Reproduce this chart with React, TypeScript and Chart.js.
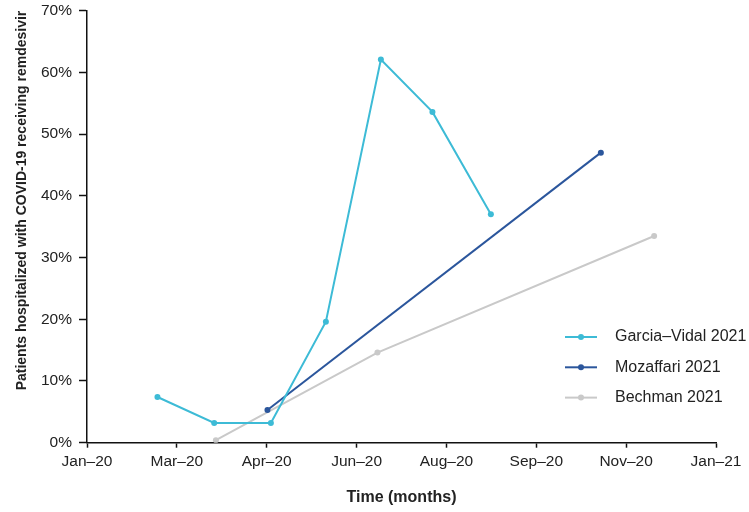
import React, { useEffect, useRef } from "react";
import { Chart, registerables } from "chart.js";

Chart.register(...registerables);

// x values are days since 1 Jan 2020, y values are percentages
const xTickLabels = ["Jan–20", "Mar–20", "Apr–20", "Jun–20", "Aug–20", "Sep–20", "Nov–20", "Jan–21"];
const xMaxDays = 366;

const seriesNames = ["Garcia–Vidal 2021", "Mozaffari 2021", "Bechman 2021"];
const seriesColors = ["#3dbbd6", "#2b569c", "#c9c9c9"];

const garciaDays = [41, 74, 107, 139, 171, 201, 235];
const garciaPct = [7.4, 3.2, 3.2, 19.6, 62.1, 53.6, 37.0];

const mozaffariDays = [105, 299];
const mozaffariPct = [5.3, 47.0];

const bechmanDays = [75, 169, 330];
const bechmanPct = [0.4, 14.6, 33.5];

const FONT = "'Liberation Sans', Arial, Helvetica, sans-serif";

const toPoints = (xs: number[], ys: number[]) => xs.map((x, i) => ({ x, y: ys[i] }));

// legend drawn inside the plot, lower right
const insideLegend = {
    id: "insideLegend",
    afterDraw(chart: any) {
        const ctx = chart.ctx as CanvasRenderingContext2D;
        const lineX0 = 565;
        const lineX1 = 597;
        const textX = 615;
        const top = 337;
        const gap = 30.3;
        ctx.save();
        chart.data.datasets.forEach((ds: any, i: number) => {
            const y = top + i * gap;
            ctx.strokeStyle = ds.borderColor;
            ctx.lineWidth = 2;
            ctx.beginPath();
            ctx.moveTo(lineX0, y);
            ctx.lineTo(lineX1, y);
            ctx.stroke();
            ctx.fillStyle = ds.borderColor;
            ctx.beginPath();
            ctx.arc((lineX0 + lineX1) / 2, y, 3, 0, Math.PI * 2);
            ctx.fill();
            ctx.fillStyle = "#222";
            ctx.font = `16px ${FONT}`;
            ctx.textAlign = "left";
            ctx.textBaseline = "middle";
            ctx.fillText(ds.label, textX, y);
        });
        ctx.restore();
    },
};

const RemdesivirChart = () => {
    const canvasRef = useRef<HTMLCanvasElement | null>(null);

    useEffect(() => {
        const ctx = canvasRef.current?.getContext("2d");
        if (!ctx) return;

        const makeSet = (i: number, xs: number[], ys: number[]) => ({
            label: seriesNames[i],
            data: toPoints(xs, ys),
            borderColor: seriesColors[i],
            backgroundColor: seriesColors[i],
            borderWidth: 2,
            pointRadius: 3,
            pointBorderWidth: 0,
            tension: 0,
        });

        const chart = new Chart(ctx, {
            type: "line",
            data: {
                datasets: [
                    makeSet(0, garciaDays, garciaPct),
                    makeSet(1, mozaffariDays, mozaffariPct),
                    makeSet(2, bechmanDays, bechmanPct),
                ],
            },
            options: {
                animation: false,
                responsive: true,
                maintainAspectRatio: false,
                layout: { padding: { top: 10.7, right: 33, bottom: 0, left: 0 } },
                plugins: {
                    legend: { display: false },
                    tooltip: { enabled: false },
                },
                scales: {
                    x: {
                        type: "linear",
                        min: 0,
                        max: xMaxDays,
                        afterBuildTicks: (scale: any) => {
                            scale.ticks = xTickLabels.map((_, i) => ({ value: (xMaxDays * i) / (xTickLabels.length - 1) }));
                        },
                        afterFit: (scale: any) => {
                            scale.height = 69.3;
                        },
                        ticks: {
                            autoSkip: false,
                            maxRotation: 0,
                            padding: 5,
                            color: "#222",
                            font: { family: FONT, size: 15.5 },
                            callback: (_v: any, index: number) => xTickLabels[index],
                        },
                        grid: {
                            drawOnChartArea: false,
                            tickLength: 5,
                            tickColor: "#111",
                            tickWidth: 1.5,
                        },
                        border: { display: true, color: "#111", width: 1.5 },
                        title: {
                            display: true,
                            text: "Time (months)",
                            color: "#222",
                            font: { family: FONT, size: 16, weight: "bold" },
                            padding: { top: 0, bottom: 5 },
                        },
                    },
                    y: {
                        min: 0,
                        max: 70,
                        afterFit: (scale: any) => {
                            scale.width = 87;
                            scale.paddingTop = 0;
                            scale.paddingBottom = 0;
                        },
                        ticks: {
                            stepSize: 10,
                            padding: 7,
                            color: "#222",
                            font: { family: FONT, size: 15.5 },
                            callback: (v: any) => `${v}%`,
                        },
                        grid: {
                            drawOnChartArea: false,
                            tickLength: 8,
                            tickColor: "#111",
                            tickWidth: 1.5,
                        },
                        border: { display: true, color: "#111", width: 1.5 },
                        title: {
                            display: true,
                            align: "end",
                            text: "Patients hospitalized with COVID-19 receiving remdesivir",
                            color: "#222",
                            font: { family: FONT, size: 14, weight: "bold" },
                            padding: { top: 14, bottom: 0 },
                        },
                    },
                },
            },
            plugins: [insideLegend],
        });

        return () => {
            chart.destroy();
        };
    }, []);

    return (
        <div style={{ position: "absolute", left: 0, top: 0, width: 749, height: 512 }}>
            <canvas ref={canvasRef} />
        </div>
    );
};

export default function App() {
    return <RemdesivirChart />;
}
